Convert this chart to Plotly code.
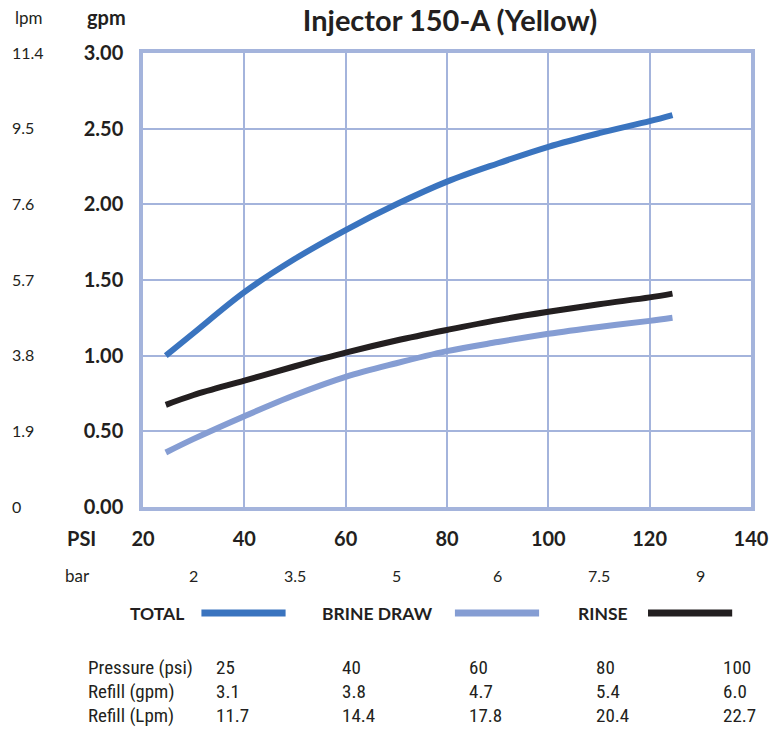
import plotly.graph_objects as go

# chart data
PSI = [24.5, 30, 40, 50, 60, 70, 80, 90, 100, 110, 120, 124.5]
TOTAL = [1.00, 1.15, 1.42, 1.64, 1.83, 2.00, 2.15, 2.27, 2.38, 2.47, 2.55, 2.59]
BRINE = [0.36, 0.45, 0.60, 0.74, 0.86, 0.95, 1.03, 1.09, 1.145, 1.19, 1.23, 1.25]
RINSE = [0.675, 0.74, 0.835, 0.93, 1.02, 1.10, 1.17, 1.235, 1.29, 1.34, 1.385, 1.41]

GPM_TICKS = [0, 0.5, 1.0, 1.5, 2.0, 2.5, 3.0]
LPM_LABELS = ["0", "1.9", "3.8", "5.7", "7.6", "9.5", "11.4"]
PSI_TICKS = [20, 40, 60, 80, 100, 120, 140]
BAR_POS = [30, 50, 70, 90, 110, 130]
BAR_LABELS = ["2", "3.5", "5", "6", "7.5", "9"]

TABLE_ROWS = ["Pressure (psi)", "Refill (gpm)", "Refill (Lpm)"]
TABLE_VALUES = [
    ["25", "40", "60", "80", "100"],
    ["3.1", "3.8", "4.7", "5.4", "6.0"],
    ["11.7", "14.4", "17.8", "20.4", "22.7"],
]

C_TOTAL = "#3a74bf"
C_BRINE = "#859dd3"
C_RINSE = "#231f20"
C_GRID = "#a4b4dc"
C_TEXT = "#231f20"
FONT = "Lato"
COND = "Liberation Sans Narrow, Roboto Condensed, Roboto"

# page has an 8px body margin, so the figure is shifted by 8px
OFF = 8
PL, PR, PT, PB = 143, 757, 53, 507   # plot area in page pixels
W, H = 781 - OFF, 732 - OFF


def px_x(p):
    return (p - PL) / (PR - PL)


def px_y(p):
    return (PB - p) / (PB - PT)


fig = go.Figure()
for name, ys, color in [("TOTAL", TOTAL, C_TOTAL),
                        ("BRINE DRAW", BRINE, C_BRINE),
                        ("RINSE", RINSE, C_RINSE)]:
    fig.add_trace(go.Scatter(
        x=PSI, y=ys, mode="lines", name=name,
        line=dict(color=color, width=6, shape="spline", smoothing=1.0),
        showlegend=False,
    ))


def text(x, y, s, size=16, family=FONT, anchor="left"):
    return dict(x=px_x(x), y=px_y(y), xref="paper", yref="paper", text=s,
                showarrow=False, xanchor=anchor, yanchor="middle",
                font=dict(size=size, color=C_TEXT, family=family))


ann = []
# lpm secondary labels
for v, lab in zip(GPM_TICKS, LPM_LABELS):
    ann.append(dict(x=px_x(9), xref="paper", y=v, yref="y", yshift=1, text=lab,
                    showarrow=False, xanchor="left", yanchor="middle",
                    font=dict(size=16, color=C_TEXT, family=FONT)))
# bar labels
for p, lab in zip(BAR_POS, BAR_LABELS):
    ann.append(dict(x=p, xref="x", y=px_y(575), yref="paper", text=lab,
                    showarrow=False, xanchor="center", yanchor="middle",
                    font=dict(size=16, color=C_TEXT, family=FONT)))
# headers
ann += [
    text(12, 17, "lpm", 17),
    text(84, 17, "<b>gpm</b>", 20),
    text(64, 538, "<b>PSI</b>", 20),
    text(62, 575, "bar", 17),
]

# legend row
legend_items = [("TOTAL", C_TOTAL, 128, 202), ("BRINE DRAW", C_BRINE, 322, 458),
                ("RINSE", C_RINSE, 580, 653)]
shapes = []
for name, color, tx, lx in legend_items:
    ann.append(text(tx, 613, "<b>" + name + "</b>", 17.5))
    shapes.append(dict(type="line", xref="paper", yref="paper",
                       x0=px_x(lx), x1=px_x(lx + 85), y0=px_y(613), y1=px_y(613),
                       line=dict(color=color, width=7)))

# refill table
col_x = [215, 342, 470, 598, 727]
for r, (label, vals) in enumerate(zip(TABLE_ROWS, TABLE_VALUES)):
    y = 667 + r * 24
    ann.append(text(85, y, label, 19, COND))
    for cx, v in zip(col_x, vals):
        ann.append(text(cx, y, v, 19, COND))

fig.update_layout(
    width=W, height=H,
    margin=dict(l=PL - OFF, r=W - (PR - OFF), t=PT - OFF, b=H - (PB - OFF)),
    paper_bgcolor="white", plot_bgcolor="white",
    title=dict(text="<b>Injector 150-A (Yellow)</b>",
               x=((PL + PR) / 2 - OFF) / W, xanchor="center",
               y=1 - (21 - OFF) / H, yanchor="middle",
               font=dict(size=29, color=C_TEXT, family=FONT)),
    annotations=ann,
    shapes=shapes,
    showlegend=False,
)
fig.update_xaxes(
    range=[20, 140], tickvals=PSI_TICKS,
    ticktext=["<b>%d</b>" % v for v in PSI_TICKS],
    tickfont=dict(size=20, color=C_TEXT, family=FONT),
    showgrid=True, gridcolor=C_GRID, gridwidth=1.5,
    showline=True, linecolor=C_GRID, linewidth=3.5, mirror=True,
    ticks="", ticklabelstandoff=11, zeroline=False,
)
fig.update_yaxes(
    range=[0, 3], tickvals=GPM_TICKS,
    ticktext=["<b>%.2f</b>" % v for v in GPM_TICKS],
    tickfont=dict(size=20, color=C_TEXT, family=FONT),
    showgrid=True, gridcolor=C_GRID, gridwidth=1.5,
    showline=True, linecolor=C_GRID, linewidth=3.5, mirror=True,
    ticks="", ticklabelstandoff=12, zeroline=False,
)

fig.write_html("out.html")
